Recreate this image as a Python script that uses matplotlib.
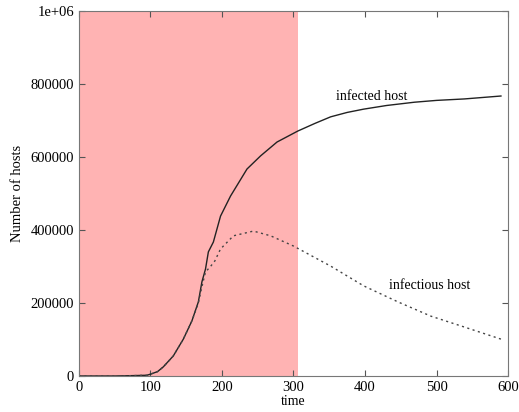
import numpy as np
import matplotlib
matplotlib.use("Agg")
import matplotlib.pyplot as plt
from matplotlib.ticker import FuncFormatter

plt.rcParams['font.family'] = ['Liberation Serif', 'DejaVu Serif']

# values
t_infected = [0, 50, 75, 95, 100, 110, 118, 132, 146, 158, 167, 172, 177, 181, 188,
              198, 212, 235, 254, 277, 306, 330, 352, 375, 398, 430, 469, 500, 539, 590]
infected = [0, 0, 1000, 2000, 5000, 12000, 25000, 55000, 101000, 151000, 203000, 258000,
            293000, 340000, 367000, 438000, 493000, 567000, 603000, 641000, 671000,
            692000, 710000, 722000, 731000, 741000, 750000, 755000, 759000, 767000]

t_infectious = [0, 50, 75, 95, 100, 110, 118, 132, 146, 158, 167, 172, 177, 184, 190,
                198, 216, 244, 268, 300, 334, 352, 398, 446, 492, 539, 590]
infectious = [0, 0, 1000, 2000, 5000, 12000, 25000, 55000, 101000, 151000, 200000, 245000,
              285000, 300000, 315000, 348000, 384000, 397000, 384000, 356000, 320000,
              301000, 247000, 203000, 164000, 134000, 101000]

shade_end = 306

fig = plt.figure(figsize=(5.19, 4.12), dpi=100)
ax = fig.add_axes([0.152, 0.0874, 0.827, 0.886])

ax.axvspan(0, shade_end, color='#ffb3b3', lw=0, zorder=0)
ax.plot(t_infected, infected, color='#222222', lw=1.0)
ax.plot(t_infectious, infectious, color='#444444', lw=1.0, linestyle=(0, (1.5, 2.5)))

ax.text(409, 765000, 'infected host', ha='center', va='center', fontsize=10)
ax.text(490, 247000, 'infectious host', ha='center', va='center', fontsize=10)

ax.set_xlim(0, 600)
ax.set_ylim(0, 1000000)
ax.set_xticks([0, 100, 200, 300, 400, 500, 600])
ax.set_yticks([0, 200000, 400000, 600000, 800000, 1000000])
ax.yaxis.set_major_formatter(FuncFormatter(lambda v, p: '1e+06' if v == 1000000 else '%d' % v))
ax.tick_params(direction='in', top=True, right=True, labelsize=10.5, length=4, color='#555555')
for s in ax.spines.values():
    s.set_color('#777777')
    s.set_linewidth(0.8)

ax.set_xlabel('time', fontsize=10, labelpad=1)
ax.set_ylabel('Number of hosts', fontsize=10.5, labelpad=5)

fig.savefig('out.png', dpi=100)
